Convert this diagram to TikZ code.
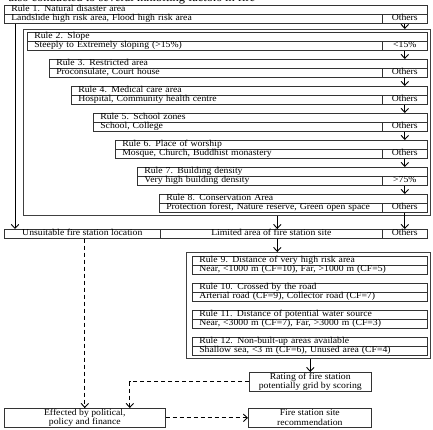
\documentclass[tikz,border=0pt]{standalone}
\usepackage{fontspec}
\setmainfont{Liberation Serif}[FakeStretch=1.08]
\usetikzlibrary{arrows.meta,positioning}

\begin{document}
\begin{tikzpicture}[
    x=1pt, y=-1pt,
    >={Straight Barb[length=4pt,width=7.5pt]},
    every node/.style={font=\fontsize{9}{9.5}\selectfont},
    rulerow/.style={draw=black!80, line width=0.6pt, anchor=north west, inner xsep=7, inner ysep=0.5, text width=#1-14, minimum height=9, text height=6, text depth=2, align=left},
    rulecell/.style={draw=black!80, line width=0.6pt, anchor=north west, inner sep=0, minimum width=#1, minimum height=9, text height=6, text depth=2, align=center},
    rulesframe/.style={draw=black!75, line width=1.4pt, anchor=north west, inner sep=0},
    outcome/.style={draw=black!80, line width=0.6pt, anchor=north west, inner sep=0, minimum height=19, align=center},
    arr/.style={->, line width=0.9pt},
    dasharr/.style={->, line width=0.9pt, dash pattern=on 4pt off 3pt}
]
\useasboundingbox (0,0) rectangle (433,430);

\node[anchor=base west, font=\fontsize{11.5}{12}\selectfont] (caption) at (5,2) {also conducted to several inhibiting factors in fire};

% exclusion rules
\node[rulerow=423] (r1t) at (4,5) {Rule 1. Natural disaster area};
\node[rulerow=378] (r1c) at (4,14) {Landslide high risk area, Flood high risk area};
\node[rulecell=45] (r1o) at (382,14) {Others};

\node[rulesframe, minimum width=407, minimum height=186] (fr1) at (23,29) {};

\node[rulerow=400] (r2t) at (27,32) {Rule 2. Slope};
\node[rulerow=355] (r2c) at (27,41) {Steeply to Extremely sloping (>15\%)};
\node[rulecell=45] (r2o) at (382,41) {<15\%};

\node[rulerow=378] (r3t) at (49,59) {Rule 3. Restricted area};
\node[rulerow=333] (r3c) at (49,68) {Proconsulate, Court house};
\node[rulecell=45] (r3o) at (382,68) {Others};

\node[rulerow=356] (r4t) at (71,86) {Rule 4. Medical care area};
\node[rulerow=311] (r4c) at (71,95) {Hospital, Community health centre};
\node[rulecell=45] (r4o) at (382,95) {Others};

\node[rulerow=334] (r5t) at (93,113) {Rule 5. School zones};
\node[rulerow=289] (r5c) at (93,122) {School, College};
\node[rulecell=45] (r5o) at (382,122) {Others};

\node[rulerow=312] (r6t) at (115,140) {Rule 6. Place of worship};
\node[rulerow=267] (r6c) at (115,149) {Mosque, Church, Buddhist monastery};
\node[rulecell=45] (r6o) at (382,149) {Others};

\node[rulerow=290] (r7t) at (137,167) {Rule 7. Building density};
\node[rulerow=245] (r7c) at (137,176) {Very high building density};
\node[rulecell=45] (r7o) at (382,176) {>75\%};

\node[rulerow=268] (r8t) at (159,194) {Rule 8. Conservation Area};
\node[rulerow=223] (r8c) at (159,203) {Protection forest, Nature reserve, Green open space};
\node[rulecell=45] (r8o) at (382,203) {Others};

% result of the exclusion
\node[rulecell=156] (uns) at (4,229) {Unsuitable fire station location};
\node[rulecell=222] (lim) at (160,229) {Limited area of fire station site};
\node[rulecell=45] (oth) at (382,229) {Others};

% scoring rules
\node[rulesframe, minimum width=244, minimum height=106] (fr2) at (186,252) {};

\node[rulerow=235] (r9t) at (192,256) {Rule 9. Distance of very high risk area};
\node[rulerow=235] (r9c) at (192,265) {Near, <1000 m (CF=10), Far, >1000 m (CF=5)};
\node[rulerow=235] (r10t) at (192,283) {Rule 10. Crossed by the road};
\node[rulerow=235] (r10c) at (192,292) {Arterial road (CF=9), Collector road (CF=7)};
\node[rulerow=235] (r11t) at (192,310) {Rule 11. Distance of potential water source};
\node[rulerow=235] (r11c) at (192,319) {Near, <3000 m (CF=7), Far, >3000 m (CF=3)};
\node[rulerow=235] (r12t) at (192,337) {Rule 12. Non-built-up areas available};
\node[rulerow=235] (r12c) at (192,346) {Shallow sea, <3 m (CF=6), Unused area (CF=4)};

\node[outcome, minimum width=122] (rate) at (249,372) {Rating of fire station\\potentially grid by scoring};
\node[outcome, minimum width=161] (eff) at (4,408) {Effected by political,\\policy and finance};
\node[outcome, minimum width=123] (rec) at (248,408) {Fire station site\\recommendation};

% connectors
\draw[arr] (r1o.south) -- (r1o.south |- fr1.north);
\draw[arr] (r2o.south) -- (r2o.south |- r3t.north);
\draw[arr] (r3o.south) -- (r3o.south |- r4t.north);
\draw[arr] (r4o.south) -- (r4o.south |- r5t.north);
\draw[arr] (r5o.south) -- (r5o.south |- r6t.north);
\draw[arr] (r6o.south) -- (r6o.south |- r7t.north);
\draw[arr] (r7o.south) -- (r7o.south |- r8t.north);
\draw[arr] (r8o.south) -- (oth.north);
\draw[arr] ([xshift=11]r1c.south west) -- ([xshift=11]uns.north west);

\coordinate (limtop) at ([xshift=6]lim.north);
\coordinate (limbot) at ([xshift=6]lim.south);
\draw[arr] (limtop |- fr1.south) -- (limtop);
\draw[arr] (limbot) -- (limbot |- fr2.north);
\draw[arr] (rate.north |- fr2.south) -- (rate.north);

\coordinate (effin) at ([xshift=45]eff.north);
\draw[dasharr] (eff.north |- uns.south) -- (eff.north);
\draw[dasharr] (rate.west) -| (effin);
\draw[dasharr] (eff.east) -- (rec.west);
\end{tikzpicture}
\end{document}
